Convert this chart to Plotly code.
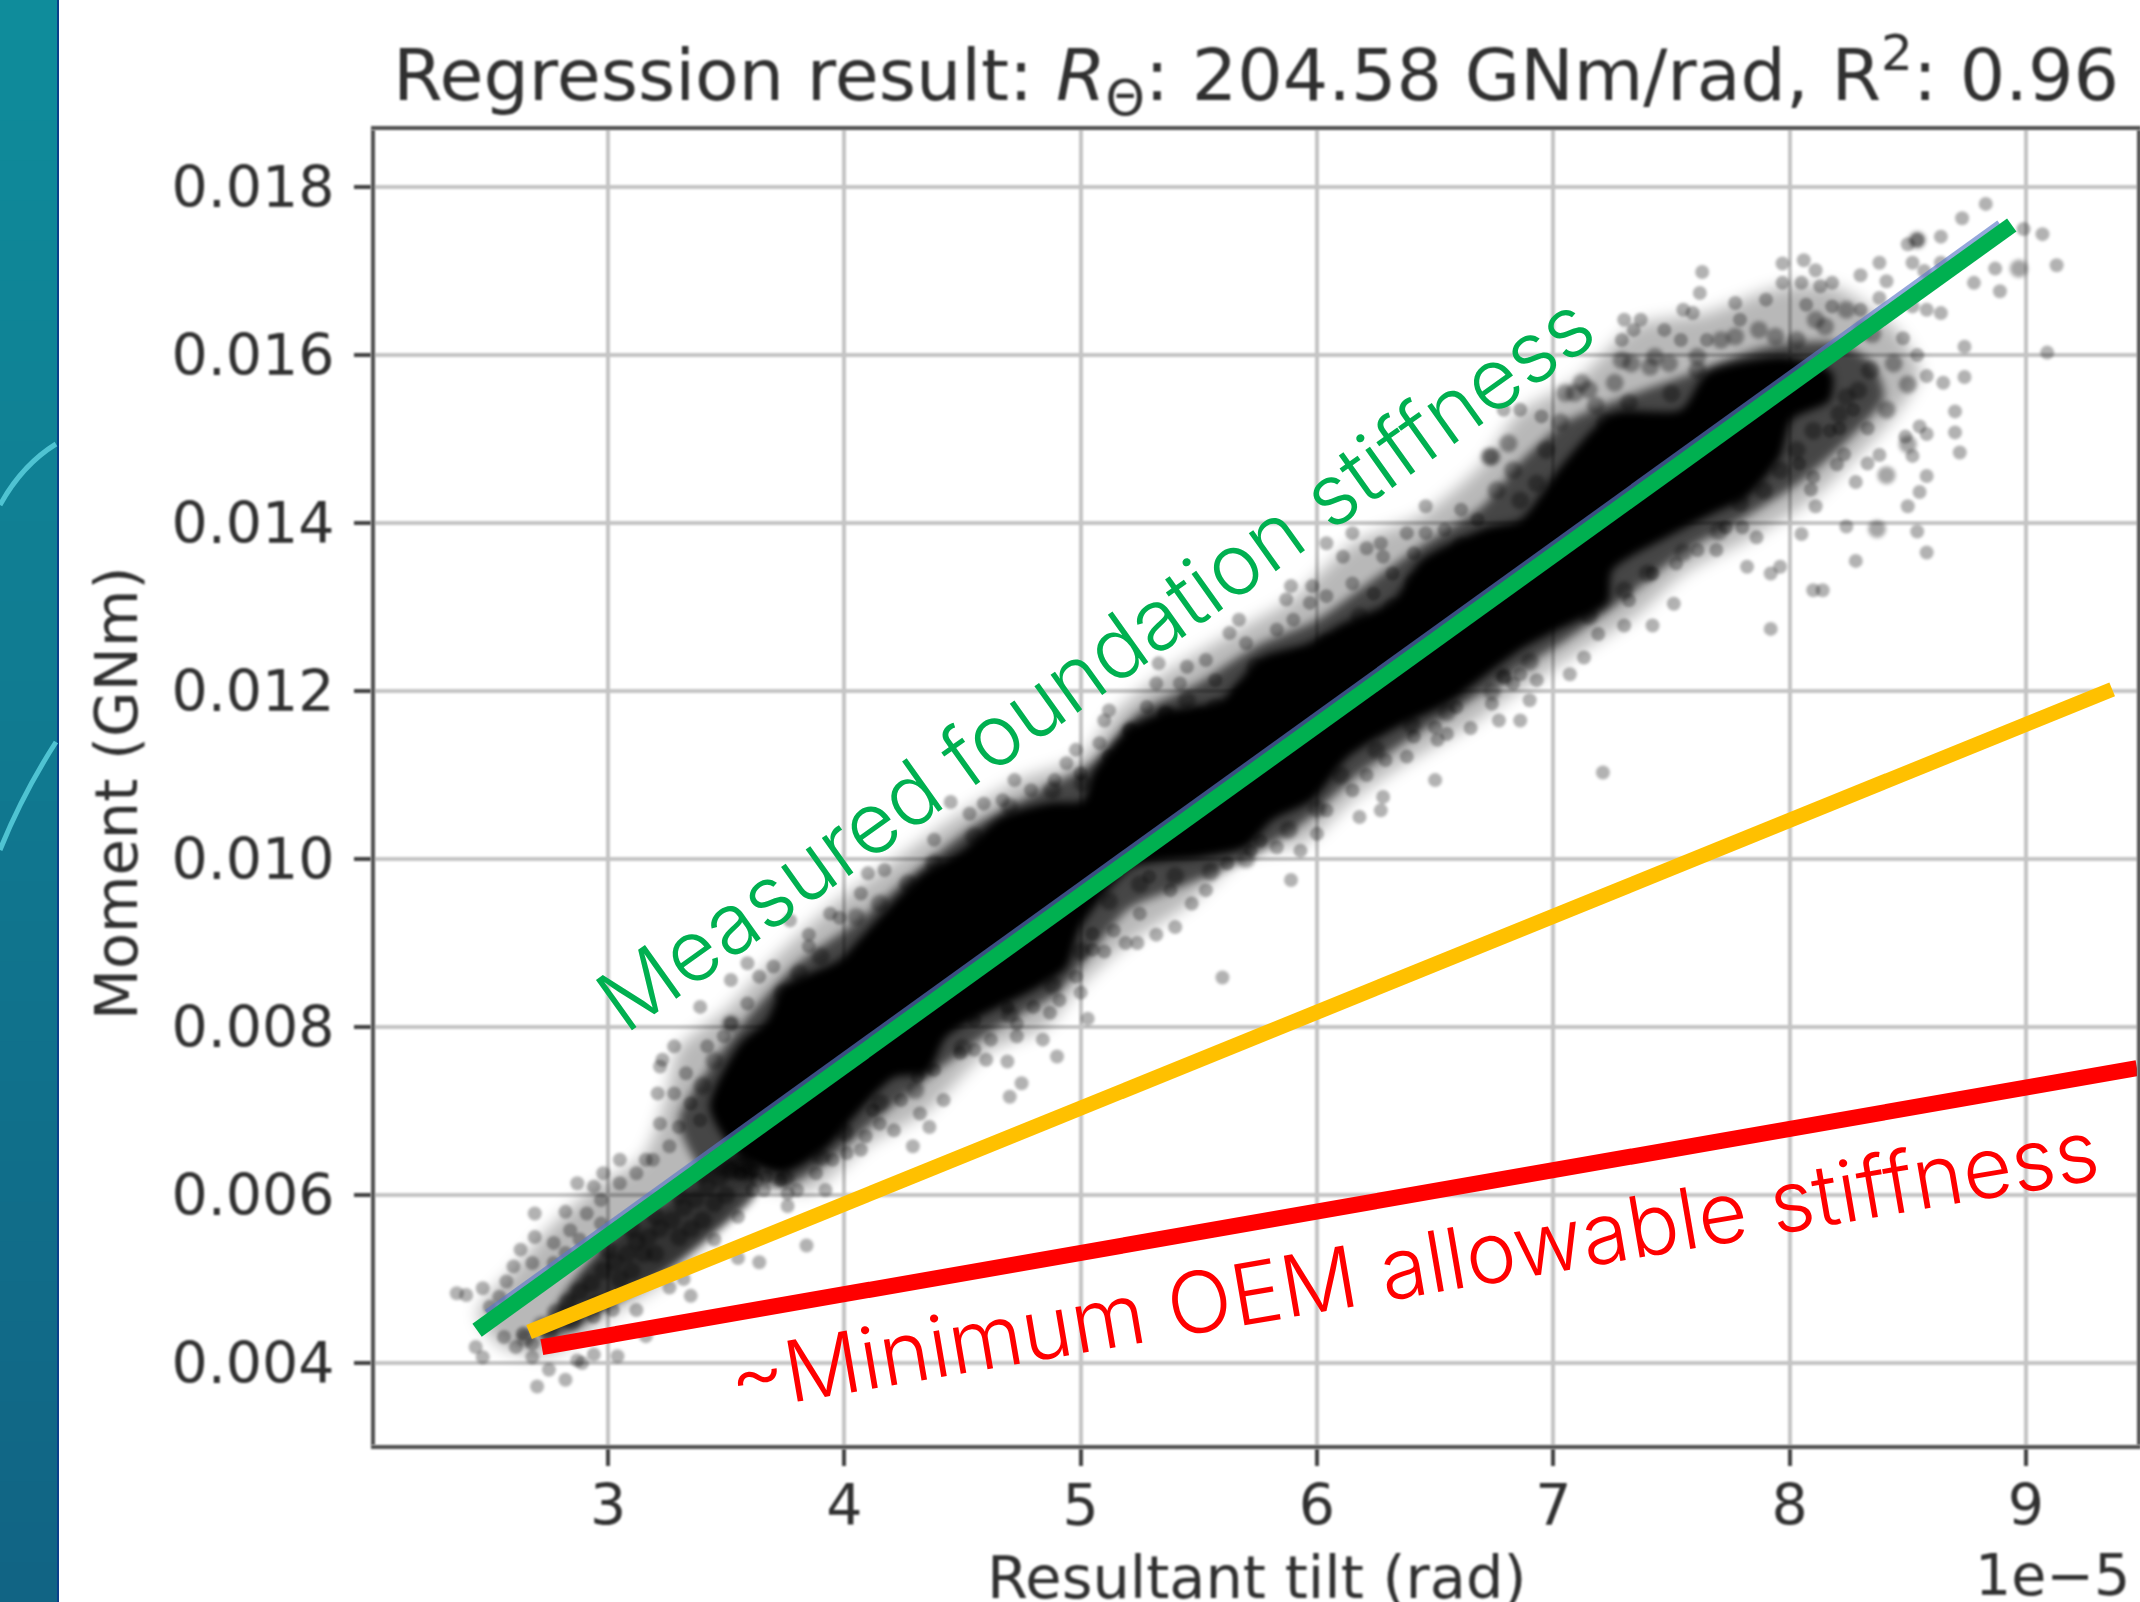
import numpy as np
import plotly.graph_objects as go

W, H = 2140, 1602
AX_L, AX_R, AX_T, AX_B = 375, 2137, 130, 1445

# All points below: x in units of 1e-5 rad, y in units of 0.001 GNm.
x_ticks = [3, 4, 5, 6, 7, 8, 9]
y_ticks = [0.004, 0.006, 0.008, 0.010, 0.012, 0.014, 0.016, 0.018]

measured_x = [2.446, 8.94]
measured_y = [4.39, 17.55]
regression_x = [2.50, 8.90]
regression_y = [4.55, 17.52]
target_x = [2.666, 9.365]
target_y = [4.37, 12.02]
minimum_x = [2.72, 9.47]
minimum_y = [4.19, 7.51]

# outer limit of the dense grey part of the cloud
halo = [(2.45,4.6),(2.6,5.1),(2.75,5.6),(2.95,6.1),(3.15,6.45),(3.25,7.2),(3.3,7.75),(3.5,8.2),(3.7,8.8),(3.95,9.45),
 (4.2,9.95),(4.5,10.55),(4.75,10.95),(5.0,11.2),(5.15,11.75),(5.35,12.2),(5.65,12.7),(5.9,13.1),(6.15,13.75),(6.45,14.1),
 (6.7,14.7),(6.85,15.3),(7.1,15.7),(7.35,16.35),(7.65,16.5),(7.95,16.8),(8.2,16.8),(8.45,16.3),(8.55,15.8),(8.45,15.3),
 (8.25,14.7),(8.1,14.3),(7.85,13.85),(7.55,13.4),(7.35,12.9),(7.1,12.45),(6.85,12.0),(6.65,11.6),(6.35,11.1),(6.15,10.7),
 (5.95,10.2),(5.7,10.05),(5.45,9.45),(5.2,9.0),(5.0,8.5),(4.85,8.0),(4.6,7.7),(4.35,7.0),(4.1,6.6),(3.85,6.05),(3.6,6.1),
 (3.45,5.55),(3.25,5.0),(3.0,4.55),(2.75,4.1),(2.55,4.2)]

# dark part of the cloud, between the grey edge and the saturated centre
mid = [(3.3,6.9),(3.45,7.6),(3.6,8.15),(3.8,8.75),(4.05,9.25),(4.3,9.85),(4.55,10.4),(4.85,10.85),(5.05,11.15),(5.25,11.75),
 (5.5,12.1),(5.75,12.55),(6.0,12.85),(6.2,13.25),(6.45,13.75),(6.7,14.2),(6.85,14.7),(7.05,15.2),(7.3,15.5),(7.6,15.8),
 (7.9,16.1),(8.2,16.15),(8.35,15.9),(8.4,15.5),(8.25,15.0),(8.05,14.5),(7.8,14.05),(7.55,13.65),(7.3,13.1),(7.05,12.6),
 (6.85,12.25),(6.6,11.8),(6.35,11.35),(6.15,10.95),(5.95,10.45),(5.7,10.0),(5.45,9.7),(5.2,9.4),(5.05,8.9),(4.9,8.4),
 (4.65,8.0),(4.4,7.5),(4.2,7.05),(3.95,6.45),(3.75,6.1),(3.55,6.2),(3.4,6.3)]

# darker lower part of the cloud, below the saturated centre
blob = [(2.72,4.3),(2.82,4.85),(2.95,5.3),(3.1,5.7),(3.25,5.95),(3.4,6.35),(3.6,6.5),(3.62,6.0),(3.45,5.55),(3.25,5.1),(3.05,4.75),(2.85,4.4)]

# saturated centre of the cloud
core = [(3.43,7.05),(3.56,7.81),(3.67,8.08),(3.74,8.48),(3.98,8.80),(4.07,9.07),(4.33,9.83),(4.50,10.11),
 (4.66,10.50),(4.87,10.67),(5.01,10.70),(5.05,11.02),(5.21,11.57),(5.37,11.77),(5.59,11.89),(5.76,12.40),
 (5.96,12.57),(6.11,12.81),(6.32,13.08),(6.44,13.56),(6.72,13.95),(6.86,14.04),(7.02,14.63),(7.25,15.31),
 (7.54,15.35),(7.65,15.79),(7.96,15.98),(8.10,15.90),(8.18,15.79),(8.17,15.46),(8.01,15.23),(7.96,14.79),
 (7.82,14.31),(7.68,14.12),(7.48,13.83),(7.25,13.44),(7.23,13.05),(7.02,12.73),(6.86,12.49),(6.65,12.05),
 (6.56,11.86),(6.32,11.54),(6.13,11.21),(5.98,10.70),(5.81,10.46),(5.70,10.14),(5.51,10.02),(5.22,9.90),
 (5.00,9.19),(4.94,8.71),(4.80,8.44),(4.57,8.12),(4.43,7.88),(4.35,7.45),(4.21,7.40),(4.04,6.93),
 (3.93,6.57),(3.74,6.26),(3.56,6.45)]

# dark overlapping points: lower blob and the mottled edges of the centre
dark = [(2.72,4.45),(2.78,4.6),(2.83,4.72),(2.88,4.85),(2.93,4.95),(2.98,5.1),(3.03,5.2),(3.08,5.3),(3.12,5.45),
 (3.17,5.5),(3.22,5.6),(3.27,5.7),(3.32,5.85),(3.37,5.95),(3.42,6.1),(3.47,6.2),(3.52,6.3),(3.15,5.3),(3.2,5.3),
 (3.3,5.5),(3.35,5.6),(3.4,5.7),(3.45,5.9),(3.5,6.0),(2.95,4.7),(3.05,5.0),(3.1,5.1),(3.0,5.35),(3.1,5.6),
 (3.2,5.75),(3.3,6.0),(3.4,6.25),(2.75,4.35),(2.85,4.5),(2.65,4.3),
 (3.52,8.04),(3.74,8.4),(3.81,8.64),(3.90,8.84),(4.05,9.31),(4.15,9.47),(4.27,9.71),(4.38,9.95),(4.55,10.27),
 (4.70,10.62),(4.88,10.82),(5.01,10.9),(3.40,7.3),(3.45,7.6),(3.6,6.3),(3.75,6.2),(3.9,6.45),(4.0,6.75),
 (4.15,7.1),(4.3,7.25),(4.5,7.75),(4.7,8.15),(4.88,8.5),(5.0,8.9),
 (5.24,11.26),(5.32,11.38),(5.40,11.5),(5.50,11.69),(5.45,11.89),(5.57,11.8),(5.68,11.97),(5.83,12.13),(5.74,12.29),
 (5.93,12.37),(6.04,12.57),(6.18,12.89),(6.32,13.0),(6.41,13.29),(6.51,13.4),(6.61,13.72),(5.21,11.53),(5.36,11.73),
 (5.12,9.5),(5.25,9.7),(5.4,9.8),(5.55,9.85),(5.7,10.0),(5.88,10.35),(6.0,10.6),(6.1,11.0),(6.25,11.3),(6.4,11.6),(6.55,11.75),
 (6.73,14.79),(6.83,14.63),(6.93,14.47),(6.76,14.39),(6.86,14.27),(6.97,14.87),(7.03,15.2),(7.09,15.55),(7.15,15.59),
 (7.22,15.2),(7.26,15.67),(7.18,15.4),(7.33,15.9),(7.43,15.98),(7.50,15.54),(7.32,15.43),(7.61,15.82),(6.74,14.79),
 (6.81,14.95),(7.05,15.55),(7.12,15.67),(7.29,15.94),(7.41,15.86),(7.49,15.9),(7.61,15.98),(7.77,16.22),(7.87,16.3),
 (7.94,16.22),(7.71,16.18),(8.11,16.42),(8.24,16.54),(8.15,16.34),(8.03,16.18),(8.29,15.58),(8.24,15.5),(8.21,15.3),
 (8.10,15.1),(8.03,14.87),(7.96,14.63),(7.89,14.39),(7.79,14.24),(7.4,13.4),(7.55,13.65),(7.7,13.9),(7.15,12.9),(7.3,13.2),
 (6.9,12.35),(6.79,12.17),(6.74,12.0),(8.44,15.9),(8.50,15.65),(8.41,15.35),(8.34,15.82),(8.35,16.25),(8.31,16.3),
 (8.97,17.03),(8.54,17.37),(8.50,14.94),(8.41,14.57),(8.37,13.93)]

# separate grey points around the cloud
stray = [(2.36,4.83),(2.40,4.81),(2.47,4.89),(2.54,4.79),(2.57,4.97),(2.50,4.67),(2.47,4.07),(2.44,4.19),(2.56,4.31),
 (2.61,4.19),(2.68,4.07),(2.75,3.92),(2.70,3.72),(2.82,3.80),(2.87,4.03),(2.94,4.10),(2.89,4.0),(3.04,4.08),(3.16,4.32),
 (2.68,4.23),(2.64,4.35),(2.63,5.35),(2.60,5.15),(2.69,5.50),(2.69,5.78),(2.82,5.80),(2.87,6.14),(2.94,6.10),(2.98,6.26),
 (3.05,6.42),(3.16,6.42),(2.68,5.19),(2.77,5.43),(2.84,5.58),(2.91,5.78),(2.97,5.94),(3.05,6.14),(3.12,6.26),(3.19,6.42),
 (2.77,5.19),(2.82,5.31),(2.88,5.47),(2.97,5.66),(3.64,5.20),(3.84,5.40),(3.35,4.80),(3.32,5.0),(3.55,5.25),(3.26,4.9),
 (3.12,4.63),(3.02,4.63),(2.94,4.55),(3.76,5.87),(3.61,6.06),(3.55,5.74),(3.45,5.47),(3.67,6.22),(3.62,6.30),
 (3.21,7.21),(3.23,7.61),(3.28,7.77),(3.22,7.53),(3.33,7.45),(3.28,7.21),(3.35,7.09),(3.22,6.85),(3.30,6.81),(3.39,6.89),
 (3.26,6.58),(3.39,8.24),(3.52,8.04),(3.59,8.28),(3.52,8.56),(3.59,8.76),(3.64,8.60),(3.70,8.72),(3.85,8.96),(3.94,9.35),
 (3.85,9.1),(3.77,9.27),(4.07,9.59),(4.10,9.83),(4.17,9.87),(4.38,10.23),(4.45,10.68),(4.53,10.54),(4.59,10.66),(4.72,10.94),
 (4.89,10.94),(4.67,10.7),(4.79,10.82),(3.98,9.3),(3.42,7.77),(3.49,7.89),
 (3.56,6.26),(3.63,6.18),(3.73,6.18),(3.80,6.06),(3.88,6.26),(3.95,6.42),(3.76,6.02),(3.66,6.06),(3.92,6.06),(4.01,6.5),
 (4.09,6.7),(4.15,6.85),(4.21,6.77),(4.29,6.58),(4.36,6.81),(4.32,6.97),(4.24,7.13),(4.12,7.01),(4.07,6.54),(4.42,7.13),
 (4.70,7.17),(4.75,7.33),(4.31,7.41),(4.38,7.49),(4.49,7.69),(4.55,7.73),(4.60,7.61),(4.69,7.59),(4.90,7.65),(4.84,7.85),
 (4.62,7.85),(4.73,7.89),(4.87,8.17),(5.0,8.41),(5.05,8.92),(4.98,8.6),(4.91,8.32),(4.80,8.24),(4.55,8.08),(4.69,8.24),
 (4.73,8.04),(5.03,8.1),
 (5.12,11.77),(5.10,11.65),(5.21,11.53),(5.36,11.73),(5.08,11.38),(4.98,11.3),(4.94,11.14),(5.0,11.02),(5.12,11.22),(5.28,11.81),
 (5.32,12.09),(5.33,12.33),(5.45,12.29),(5.42,12.09),(5.53,12.37),(5.57,12.13),(5.63,12.69),(5.67,12.85),(5.70,12.57),(5.83,12.73),
 (5.90,12.85),(5.89,13.25),(5.87,13.09),(5.97,13.05),(5.98,13.25),(6.04,13.76),(6.04,13.13),(6.15,13.88),(6.11,13.6),(6.21,13.7),
 (6.15,13.28),(6.28,13.6),(6.27,13.76),(6.38,13.88),(6.32,13.4),(6.46,14.2),(6.54,13.92),(6.61,14.16),(6.41,13.64),(6.68,14.04),
 (6.46,13.88),(6.24,13.16),
 (6.65,11.56),(6.50,10.94),(6.77,11.65),(6.41,11.46),(6.51,11.42),(6.38,11.22),(6.29,11.18),(6.28,10.74),(6.15,10.82),(6.27,10.58),
 (6.18,10.5),(6.21,11.0),(6.04,10.58),(6.0,10.3),(5.93,10.1),(5.89,9.75),(5.83,10.14),(5.76,10.22),(5.72,10.1),(5.62,9.95),
 (5.53,9.63),(5.47,9.47),(5.40,9.19),(5.32,9.1),(5.38,9.63),(5.29,9.79),(5.25,9.35),(5.19,9.0),(5.14,9.15),(5.10,8.9),
 (5.05,9.11),(5.24,9.0),(6.79,12.17),(6.86,12.2),(6.74,11.85),(6.86,11.65),(6.59,11.81),(6.55,11.49),(6.5,11.57),(5.6,8.59),(7.21,11.03),
 (7.63,16.99),(7.62,16.74),(7.55,16.54),(7.59,16.5),(7.37,16.42),(7.30,16.42),(7.34,16.3),(7.47,16.3),(7.29,16.18),(7.54,16.18),
 (7.65,16.18),(7.77,16.62),(7.79,16.42),(7.90,16.66),(7.97,16.86),(7.97,17.09),(8.06,17.13),(8.11,17.01),(8.18,16.86),(8.13,16.82),
 (8.30,16.95),(8.07,16.6),(8.18,16.58),(8.38,17.1),(8.05,16.86),(8.52,16.58),(8.58,16.54),(8.48,16.2),(8.58,15.75),(8.55,15.15),
 (8.49,15.03),(8.52,14.8),(8.58,14.56),(8.38,14.81),(8.33,14.71),(8.28,14.49),(8.23,14.82),(8.20,14.7),(8.11,14.2),(8.09,14.4),
 (8.04,14.71),(8.10,14.55),(8.17,15.1),(8.21,15.13),(8.33,15.13),(8.27,15.35),(8.05,13.87),(8.14,13.2),(7.92,12.74),(7.92,13.4),
 (7.82,13.48),(7.96,13.48),(7.86,13.83),(7.80,13.95),(7.73,13.95),(7.69,13.68),(7.61,13.68),(7.52,13.52),(7.51,13.04),(7.42,12.78),
 (7.30,12.78),(7.32,13.08),(7.42,13.4),(7.19,12.68),(7.13,12.4),(7.07,12.2),(6.93,12.13),(6.90,11.89),(6.83,12.09),
 (6.86,15.35),(6.79,15.35),(6.95,15.27),
 (8.54,17.37),(8.50,17.32),(8.73,17.63),(8.83,17.8),(8.64,17.41),(8.52,17.1),(8.57,17.0),(8.60,16.88),(8.64,17.1),(8.41,16.88),
 (8.38,16.68),(8.30,16.54),(9.07,17.44),(9.13,17.07),(8.87,17.03),(8.78,16.86),(8.89,16.76),(8.64,16.5),(8.74,16.1),(9.09,16.03),
 (8.74,15.74),(8.65,15.67),(8.54,16.0),(8.99,17.5),(8.70,15.33),(8.70,15.08),(8.72,14.84),(8.58,15.06),(8.55,14.37),(8.50,14.2),
 (8.54,13.9),(8.58,13.65),(8.28,13.55),(8.24,13.96),(8.10,13.2)]


def xs(points):
    return [p[0] for p in points]


def ys(points):
    return [p[1] / 1000 for p in points]


def px_x(v):
    return v / W


def px_y(v):
    return 1 - v / H


def area(points, fill):
    closed = points + points[:1]
    return go.Scatter(x=xs(closed), y=ys(closed), mode="lines", fill="toself", fillcolor=fill,
                      line=dict(color="rgba(0,0,0,0)", width=0, shape="spline", smoothing=0.7))


fig = go.Figure()
fig.add_trace(area(halo, "rgba(0,0,0,0.28)"))
fig.add_trace(area(mid, "rgba(0,0,0,0.62)"))
fig.add_trace(area(blob, "rgba(0,0,0,0.72)"))
fig.add_trace(go.Scatter(x=xs(stray), y=ys(stray), mode="markers",
                         marker=dict(size=14, color="rgba(0,0,0,0.30)", line=dict(width=0))))
fig.add_trace(go.Scatter(x=xs(dark), y=ys(dark), mode="markers",
                         marker=dict(size=18, color="rgba(0,0,0,0.35)", line=dict(width=0))))
fig.add_trace(area(core, "#000000"))
TRACE_BLUR = [8, 5, 4, 1.5, 2, 4]
fig.add_trace(go.Scatter(x=regression_x, y=np.array(regression_y) / 1000, mode="lines",
                         line=dict(color="rgba(91,120,200,0.65)", width=17)))
fig.add_trace(go.Scatter(x=measured_x, y=np.array(measured_y) / 1000, mode="lines",
                         line=dict(color="#00B050", width=16)))
fig.add_trace(go.Scatter(x=target_x, y=np.array(target_y) / 1000, mode="lines",
                         line=dict(color="#FFC000", width=15)))
fig.add_trace(go.Scatter(x=minimum_x, y=np.array(minimum_y) / 1000, mode="lines",
                         line=dict(color="#FF0000", width=16)))

# decorative teal strip at the page's left edge
shapes = []
n = 40
top, bottom = np.array([15, 140, 155]), np.array([17, 100, 132])
for i in range(n):
    c = top + (bottom - top) * i / (n - 1)
    shapes.append(dict(type="rect", xref="paper", yref="paper", x0=0, x1=px_x(57),
                       y0=px_y(H * (i + 1) / n + 1), y1=px_y(H * i / n), fillcolor=f"rgb({c[0]:.0f},{c[1]:.0f},{c[2]:.0f})",
                       line=dict(width=0), layer="below"))
shapes.append(dict(type="rect", xref="paper", yref="paper", x0=px_x(57), x1=px_x(59), y0=0, y1=1,
                   fillcolor="#0b3f8a", line=dict(width=0), layer="below"))
shapes.append(dict(type="path", xref="paper", yref="paper",
                   path=f"M 0 {px_y(505)} Q {px_x(22)} {px_y(465)} {px_x(56)} {px_y(444)}",
                   line=dict(color="#4fc3d2", width=5), layer="below"))
shapes.append(dict(type="path", xref="paper", yref="paper",
                   path=f"M 0 {px_y(850)} Q {px_x(22)} {px_y(795)} {px_x(56)} {px_y(742)}",
                   line=dict(color="#4fc3d2", width=5), layer="below"))

ink = "#303030"
DJ = "DejaVu Sans"
ann = [
    dict(text="Regression result: <i>R</i><sub>Θ</sub>: 204.58 GNm/rad, R<sup>2</sup>: 0.96",
         x=px_x(1256), y=px_y(75), font=dict(family=DJ, size=71.5, color=ink), xanchor="center", yanchor="middle"),
    dict(text="Moment (GNm)", x=px_x(116), y=px_y(794), textangle=-90,
         font=dict(family=DJ, size=59, color=ink), xanchor="center", yanchor="middle"),
    dict(text="Resultant tilt (rad)", x=px_x(1256), y=px_y(1577),
         font=dict(family=DJ, size=59, color=ink), xanchor="center", yanchor="middle"),
    dict(text="1e−5", x=px_x(2132), y=px_y(1575),
         font=dict(family=DJ, size=57, color=ink), xanchor="right", yanchor="middle"),
    dict(text="Measured foundation stiffness", x=px_x(1095), y=px_y(662), textangle=-35.5,
         font=dict(family="Inter", size=85, color="#00B050", weight=300), xanchor="center", yanchor="middle"),
    dict(text="~Minimum OEM allowable stiffness", x=px_x(1413), y=px_y(1265), textangle=-9.7,
         font=dict(family="Inter", size=85, color="#FF0000", weight=300), xanchor="center", yanchor="middle"),
]
for a in ann:
    a.update(xref="paper", yref="paper", showarrow=False)

axis_common = dict(showline=True, linewidth=4, linecolor="#505050", mirror=True,
                   ticks="outside", ticklen=17, tickwidth=4, tickcolor="#404040",
                   showgrid=True, gridcolor="#c4c4c4", gridwidth=4, zeroline=False,
                   tickfont=dict(family=DJ, size=57, color=ink))

fig.update_layout(
    width=W, height=H, showlegend=False, paper_bgcolor="white", plot_bgcolor="white",
    margin=dict(l=0, r=0, t=0, b=0), shapes=shapes, annotations=ann,
    xaxis=dict(domain=[AX_L / W, AX_R / W], range=[2.014, 9.47], tickmode="array", ticklabelstandoff=-9,
               tickvals=x_ticks, ticktext=[str(v) for v in x_ticks], **axis_common),
    yaxis=dict(domain=[1 - AX_B / H, 1 - AX_T / H], range=[0.003024, 0.01868], tickmode="array", ticklabelstandoff=8,
               tickvals=y_ticks, ticktext=[f"{v:.3f}" for v in y_ticks], **axis_common),
)

page_fix = """
document.body.style.margin = '0';
document.documentElement.style.overflow = 'hidden';
var traces = document.querySelectorAll('.scatterlayer .trace');
var blurs = %s;
blurs.forEach(function (b, i) { traces[i].style.filter = 'blur(' + b + 'px)'; });
document.querySelectorAll('.gridlayer, .xaxislayer-above, .yaxislayer-above, .xlines-above, .ylines-above').forEach(function (el) {
  el.style.filter = 'blur(0.8px)';
});
var notes = document.querySelectorAll('.annotation');
for (var j = 0; j < 4; j++) { notes[j].style.filter = 'blur(0.8px)'; }
""" % TRACE_BLUR
fig.write_html("out.html", config=dict(displayModeBar=False), post_script=page_fix)
